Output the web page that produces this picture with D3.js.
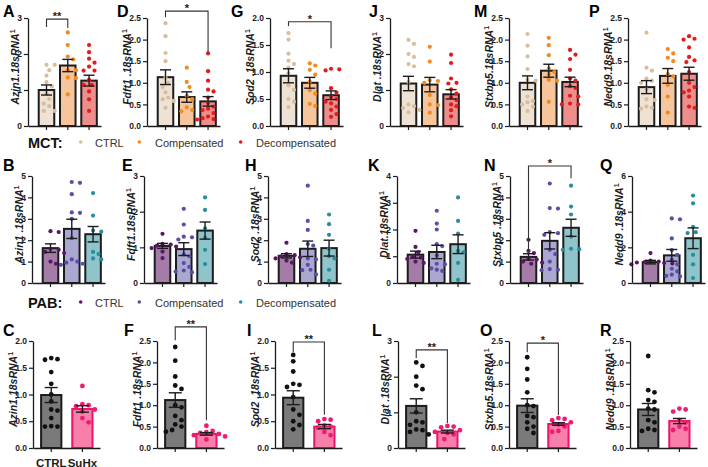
<!DOCTYPE html>
<html><head><meta charset="utf-8">
<script src="https://cdn.jsdelivr.net/npm/d3@7"></script>
<style>body{margin:0;background:#fff}svg{display:block;font-family:"Liberation Sans",Arial,Helvetica,sans-serif}</style>
</head><body><svg id="c" width="708" height="467"></svg>
<script>
// ---------- groups ----------
const mctGroups = ["CTRL","Compensated","Decompensated"];
const pabGroups = ["CTRL","Compensated","Decompensated"];
const suhxGroups = ["CTRL","SuHx"];

// ---------- MCT row ----------
const azin1MctPts = [[1.7,1.7,1.55,1.4,1.22,1.1,0.9,0.75,0.62,0.55,0.42,0.42],[2.6,2.25,1.93,1.85,1.55,1.55,1.35,1.33,0.88],[2.25,2.05,1.87,1.76,1.65,1.54,1.54,1.28,1.14,1.14,0.96,0.74,0.42]];
const azin1MctMean = [1.0,1.68,1.26];
const azin1MctSem = [0.14,0.17,0.15];

const fdft1MctPts = [[2.38,2.08,1.69,1.5,1.12,1.0,0.9,0.78,0.66,0.62,0.58,0.42],[1.35,1.02,0.9,0.7,0.62,0.43,0.37,0.34],[1.68,1.27,1.05,0.84,0.8,0.66,0.53,0.45,0.4,0.37,0.3,0.22,0.18,0.16,0.15]];
const fdft1MctMean = [1.13,0.67,0.57];
const fdft1MctSem = [0.17,0.12,0.11];

const sod2MctPts = [[1.72,1.6,1.34,1.21,1.15,1.08,0.97,0.75,0.67,0.5,0.45,0.35],[1.16,1.12,1.04,0.95,0.82,0.66,0.6,0.41,0.37],[1.06,1.05,1.03,0.7,0.62,0.54,0.5,0.45,0.42,0.36,0.3,0.22,0.17]];
const sod2MctMean = [0.93,0.8,0.57];
const sod2MctSem = [0.13,0.1,0.08];

const dlatMctPts = [[2.39,2.28,2.0,1.92,1.72,1.66,1.22,0.6,0.55,0.5,0.45,0.38],[2.2,1.79,1.27,1.25,1.2,0.86,0.6,0.58,0.37],[1.98,1.75,1.32,1.2,1.18,1.02,0.9,0.8,0.72,0.6,0.55,0.44,0.27]];
const dlatMctMean = [1.18,1.15,0.88];
const dlatMctSem = [0.2,0.2,0.13];

const stxbp5MctPts = [[2.13,1.86,1.61,1.32,1.07,1.05,0.68,0.58,0.55,0.5,0.45,0.35],[2.04,1.87,1.64,1.33,1.25,1.2,1.07,1.05,0.56],[1.76,1.65,1.55,1.3,1.1,1.05,0.92,0.88,0.7,0.68,0.52,0.5,0.5]];
const stxbp5MctMean = [1.0,1.28,1.02];
const stxbp5MctSem = [0.16,0.15,0.11];

const nedd9MctPts = [[2.16,1.35,1.28,1.1,1.05,1.0,0.85,0.62,0.6,0.45,0.42,0.4],[1.78,1.68,1.58,1.5,1.2,1.15,0.95,0.68,0.31],[2.08,2.02,2.0,1.82,1.6,1.52,1.48,1.25,1.0,0.9,0.82,0.78,0.68,0.45,0.42]];
const nedd9MctMean = [0.9,1.16,1.21];
const nedd9MctSem = [0.15,0.17,0.15];

// ---------- PAB row ----------
const azin1PabPts = [[2.42,2.38,1.6,1.55,1.45,1.4,1.0,0.9],[4.72,4.68,4.15,3.3,3.28,3.0,2.1,1.1,1.0,0.95,0.9,0.85],[4.2,3.15,2.45,2.4,1.45,1.35,1.15,1.1]];
const azin1PabMean = [1.63,2.53,2.28];
const azin1PabSem = [0.2,0.45,0.36];

const fdft1PabPts = [[1.38,1.1,1.08,1.05,1.02,0.98,0.88,0.7],[2.08,1.64,1.3,1.28,1.22,0.8,0.75,0.56,0.45,0.35,0.32,0.3],[2.4,2.05,1.53,1.27,0.93,0.53]];
const fdft1PabMean = [1.04,0.95,1.47];
const fdft1PabSem = [0.07,0.18,0.24];

const sod2PabPts = [[1.88,1.35,1.3,1.25,1.2,1.15,1.05,0.95],[4.55,2.9,2.48,1.82,1.75,1.15,1.1,0.85,0.62,0.6,0.4],[3.2,2.75,2.25,1.6,1.25,1.15,0.62,0.1]];
const sod2PabMean = [1.27,1.6,1.63];
const sod2PabSem = [0.1,0.36,0.37];

const dlatPabPts = [[1.95,1.35,1.15,1.0,0.95,0.9,0.8,0.75],[2.7,2.22,2.0,1.45,1.38,1.03,0.72,0.7,0.55,0.5,0.45],[3.2,2.32,1.85,1.2,1.15,0.75,0.12]];
const dlatPabMean = [1.06,1.16,1.45];
const dlatPabSem = [0.13,0.25,0.35];

const stxbp5PabPts = [[2.02,1.5,1.4,1.15,1.1,1.0,0.95,0.9],[4.65,3.5,3.48,2.38,2.33,2.25,1.55,1.35,1.0,0.65,0.62,0.6],[4.55,3.57,3.2,2.17,1.6,1.58,1.55]];
const stxbp5PabMean = [1.22,1.97,2.58];
const stxbp5PabSem = [0.15,0.38,0.4];

const nedd9PabPts = [[1.68,1.25,1.2,1.18,1.15,1.12,1.1,1.05],[3.62,3.57,2.5,1.85,1.58,1.3,1.05,0.8,0.65,0.47,0.4,0.37],[4.9,4.47,3.15,2.85,2.8,1.58,1.05,0.28]];
const nedd9PabMean = [1.17,1.55,2.51];
const nedd9PabSem = [0.1,0.33,0.58];

// ---------- SuHx row ----------
const azin1SuPts = [[1.68,1.66,1.65,1.42,1.2,1.0,0.87,0.72,0.7,0.56,0.41,0.4,0.4],[1.16,0.82,0.8,0.78,0.72,0.68,0.56,0.48]];
const azin1SuMean = [0.99,0.73];
const azin1SuSem = [0.14,0.06];

const fdft1SuPts = [[2.36,2.04,1.67,1.46,1.38,1.0,0.95,0.75,0.65,0.55,0.5,0.42,0.38],[0.52,0.4,0.37,0.35,0.33,0.3,0.27,0.2]];
const fdft1SuMean = [1.12,0.33];
const fdft1SuSem = [0.17,0.03];

const sod2SuPts = [[1.74,1.62,1.43,1.2,1.18,1.14,0.95,0.72,0.62,0.5,0.43,0.35],[0.54,0.53,0.5,0.42,0.4,0.38,0.3,0.24]];
const sod2SuMean = [0.94,0.4];
const sod2SuSem = [0.13,0.04];

const dlatSuPts = [[2.4,2.3,2.0,1.75,1.65,1.0,0.75,0.72,0.65,0.52,0.5,0.45,0.38],[0.62,0.6,0.58,0.5,0.45,0.42,0.38,0.25]];
const dlatSuMean = [1.18,0.46];
const dlatSuSem = [0.2,0.04];

const stxbp5SuPts = [[2.12,1.85,1.6,1.3,1.0,0.98,0.75,0.72,0.6,0.5,0.45,0.35],[0.7,0.68,0.65,0.6,0.55,0.5,0.4,0.38]];
const stxbp5SuMean = [0.99,0.56];
const stxbp5SuSem = [0.16,0.03];

const nedd9SuPts = [[2.15,1.35,1.3,1.12,1.08,0.92,0.9,0.65,0.6,0.45,0.42,0.4],[0.92,0.9,0.85,0.65,0.6,0.5,0.45,0.42]];
const nedd9SuMean = [0.9,0.63];
const nedd9SuSem = [0.14,0.06];

// ---------- tick values ----------
const ticks3 = [0,1,2,3];
const ticks25 = [0,0.5,1,1.5,2,2.5];
const ticks20 = [0,0.5,1,1.5,2];
const ticks5 = [0,1,2,3,4,5];
const ticks4 = [0,1,2,3,4];
const ticks6 = [0,2,4,6];

// ---------- styling ----------
const mctColors = [{pt:"#D9BE9E",bar:"#EEE2D5"},{pt:"#F28A20",bar:"#F6C59B"},{pt:"#E21B1D",bar:"#EE8E8C"}];
const pabColors = [{pt:"#5A1768",bar:"#A57CA8"},{pt:"#5850A6",bar:"#AAA8D1"},{pt:"#2A8D9D",bar:"#8EC4CA"}];
const suColors = [{pt:"#111111",bar:"#7A7A7A"},{pt:"#EE1D72",bar:"#F77FAA",stroke:"#E5166B"}];

const rows = [{top:18,zero:126,letterY:17},{top:176,zero:283,letterY:171},{top:341,zero:448,letterY:336}];

const fmt0 = d3.format("d"), fmt1 = d3.format(".1f");

const panels = [
 {id:"A",row:0,x0:28,lx:3,groups:mctGroups,pts:azin1MctPts,mean:azin1MctMean,sem:azin1MctSem,ymax:3,ticks:ticks3,fmt:fmt0,gene:"Azin1",sep:".18sRNA",col:mctColors,sig:{a:0,b:1,y:2.97,la:2.75,lb:2.72,t:"**"}},
 {id:"D",row:0,x0:147,lx:117,groups:mctGroups,pts:fdft1MctPts,mean:fdft1MctMean,sem:fdft1MctSem,ymax:2.5,ticks:ticks25,fmt:fmt1,gene:"Fdft1",sep:" .18sRNA",col:mctColors,sig:{a:0,b:2,y:2.66,la:2.52,lb:1.71,t:"*"}},
 {id:"G",row:0,x0:270,lx:231,groups:mctGroups,pts:sod2MctPts,mean:sod2MctMean,sem:sod2MctSem,ymax:2,ticks:ticks20,fmt:fmt1,gene:"Sod2",sep:" .18sRNA",col:mctColors,sig:{a:0,b:2,y:1.93,la:1.85,lb:1.44,t:"*"}},
 {id:"J",row:0,x0:390,lx:369,groups:mctGroups,pts:dlatMctPts,mean:dlatMctMean,sem:dlatMctSem,ymax:3,ticks:ticks3,fmt:fmt0,gene:"Dlat",sep:" .18sRNA",col:mctColors},
 {id:"M",row:0,x0:509,lx:474,groups:mctGroups,pts:stxbp5MctPts,mean:stxbp5MctMean,sem:stxbp5MctSem,ymax:2.5,ticks:ticks25,fmt:fmt1,gene:"Stxbp5",sep:".18sRNA",col:mctColors},
 {id:"P",row:0,x0:628,lx:589,groups:mctGroups,pts:nedd9MctPts,mean:nedd9MctMean,sem:nedd9MctSem,ymax:2.5,ticks:ticks25,fmt:fmt1,gene:"Nedd9",sep:".18sRNA",col:mctColors},

 {id:"B",row:1,x0:32,lx:3,groups:pabGroups,pts:azin1PabPts,mean:azin1PabMean,sem:azin1PabSem,ymax:5,ticks:ticks5,fmt:fmt0,gene:"Azin1",sep:" .18sRNA",col:pabColors},
 {id:"E",row:1,x0:144,lx:122,groups:pabGroups,pts:fdft1PabPts,mean:fdft1PabMean,sem:fdft1PabSem,ymax:3,ticks:ticks3,fmt:fmt0,gene:"Fdft1",sep:".18sRNA",col:pabColors},
 {id:"H",row:1,x0:268,lx:245,groups:pabGroups,pts:sod2PabPts,mean:sod2PabMean,sem:sod2PabSem,ymax:5,ticks:ticks5,fmt:fmt0,gene:"Sod2",sep:" .18sRNA",col:pabColors},
 {id:"K",row:1,x0:397,lx:368,groups:pabGroups,pts:dlatPabPts,mean:dlatPabMean,sem:dlatPabSem,ymax:4,ticks:ticks4,fmt:fmt0,gene:"Dlat",sep:".18sRNA",col:pabColors},
 {id:"N",row:1,x0:510,lx:484,groups:pabGroups,pts:stxbp5PabPts,mean:stxbp5PabMean,sem:stxbp5PabSem,ymax:5,ticks:ticks5,fmt:fmt0,gene:"Stxbp5",sep:" .18sRNA",col:pabColors,sig:{a:0,b:2,y:5.47,la:1.45,lb:4.9,t:"*"}},
 {id:"Q",row:1,x0:632,lx:600,groups:pabGroups,pts:nedd9PabPts,mean:nedd9PabMean,sem:nedd9PabSem,ymax:6,ticks:ticks6,fmt:fmt0,gene:"Nedd9",sep:" .18sRNA",col:pabColors},

 {id:"C",row:2,x0:33,lx:3,groups:suhxGroups,pts:azin1SuPts,mean:azin1SuMean,sem:azin1SuSem,ymax:2,ticks:ticks20,fmt:fmt1,gene:"Azin1",sep:".18sRNA",col:suColors,xlabels:true},
 {id:"F",row:2,x0:157,lx:124,groups:suhxGroups,pts:fdft1SuPts,mean:fdft1SuMean,sem:fdft1SuSem,ymax:2.5,ticks:ticks25,fmt:fmt1,gene:"Fdft1",sep:" .18sRNA",col:suColors,sig:{a:0,b:1,y:2.83,la:2.52,lb:0.65,t:"**"}},
 {id:"I",row:2,x0:275,lx:247,groups:suhxGroups,pts:sod2SuPts,mean:sod2SuMean,sem:sod2SuSem,ymax:2,ticks:ticks20,fmt:fmt1,gene:"Sod2",sep:" .18sRNA",col:suColors,sig:{a:0,b:1,y:1.98,la:1.79,lb:0.62,t:"**"}},
 {id:"L",row:2,x0:398,lx:372,groups:suhxGroups,pts:dlatSuPts,mean:dlatSuMean,sem:dlatSuSem,ymax:3,ticks:ticks3,fmt:fmt0,gene:"Dlat",sep:" .18sRNA",col:suColors,sig:{a:0,b:1,y:2.75,la:2.52,lb:0.7,t:"**"}},
 {id:"O",row:2,x0:509,lx:480,groups:suhxGroups,pts:stxbp5SuPts,mean:stxbp5SuMean,sem:stxbp5SuSem,ymax:2.5,ticks:ticks25,fmt:fmt1,gene:"Stxbp5",sep:".18sRNA",col:suColors,sig:{a:0,b:1,y:2.45,la:2.24,lb:0.77,t:"*"}},
 {id:"R",row:2,x0:630,lx:600,groups:suhxGroups,pts:nedd9SuPts,mean:nedd9SuMean,sem:nedd9SuSem,ymax:2.5,ticks:ticks25,fmt:fmt1,gene:"Nedd9",sep:" .18sRNA",col:suColors}
];

const svg = d3.select("#c");
const INK = "#1c1c1c";

// deterministic beeswarm offsets (layout only)
function swarm(vals, y, r){
  const order = vals.map((v,i)=>i).sort((a,b)=>vals[b]-vals[a]);
  const placed = [], offs = new Array(vals.length);
  const step = r*1.3, minD = 2*r+1.4;
  for(const i of order){
    const py = y(vals[i]);
    let off = 0;
    for(let k=0;k<40;k++){
      off = k===0 ? 0 : Math.ceil(k/2)*(k%2?1:-1)*step;
      if(placed.every(p => (p.x-off)**2 + (p.y-py)**2 >= minD*minD)) break;
    }
    placed.push({x:off,y:py}); offs[i]=off;
  }
  return offs;
}

panels.forEach(p=>{
  const row = rows[p.row];
  const n = p.groups.length;
  const y = d3.scaleLinear().domain([0,p.ymax]).range([row.zero,row.top]);
  const W = n===3 ? 73 : 67;
  const x = d3.scaleBand().domain(d3.range(n)).range([p.x0,p.x0+W])
     .paddingInner(n===3?0.27:0.35).paddingOuter(n===3?0.35:0.25).align(n===3?0.72:0.52);
  const bw = x.bandwidth();
  const cx = i => x(i)+bw/2;
  const r = p.row===2 ? 2.4 : 2.1;
  const g = svg.append("g");

  // bars
  g.selectAll("rect").data(p.mean).join("rect")
    .attr("x",(d,i)=>x(i)).attr("width",bw)
    .attr("y",d=>y(d)).attr("height",d=>y(0)-y(d))
    .attr("fill",(d,i)=>p.col[i].bar)
    .attr("stroke",(d,i)=>p.col[i].stroke||INK).attr("stroke-width",2);

  // points
  p.pts.forEach((arr,i)=>{
    const offs = swarm(arr,y,r);
    g.append("g").selectAll("circle").data(arr).join("circle")
      .attr("cx",(v,j)=>cx(i)+offs[j]).attr("cy",v=>y(v)).attr("r",r)
      .attr("fill",p.col[i].pt);
  });

  // error bars
  const cap = n===3 ? 5.5 : 6.5;
  p.mean.forEach((m,i)=>{
    const lo = y(m-p.sem[i]), hi = y(m+p.sem[i]);
    const eg = g.append("g").attr("stroke",INK).attr("stroke-width",1.4).attr("fill","none");
    eg.append("line").attr("x1",cx(i)).attr("x2",cx(i)).attr("y1",lo).attr("y2",hi);
    eg.append("line").attr("x1",cx(i)-cap).attr("x2",cx(i)+cap).attr("y1",hi).attr("y2",hi);
    eg.append("line").attr("x1",cx(i)-cap).attr("x2",cx(i)+cap).attr("y1",lo).attr("y2",lo);
  });

  // y axis
  const ya = g.append("g").attr("transform",`translate(${p.x0},0)`)
    .call(d3.axisLeft(y).tickValues(p.ticks).tickFormat(p.fmt).tickSize(4).tickSizeOuter(0).tickPadding(2));
  ya.select(".domain").attr("stroke",INK).attr("stroke-width",1.3);
  ya.selectAll(".tick line").attr("stroke",INK).attr("stroke-width",1.2);
  ya.selectAll("text").attr("font-size",8.5).attr("font-weight","bold").attr("fill",INK).attr("font-family","Liberation Sans, Arial, sans-serif");

  // x axis
  const xa = g.append("g").attr("transform",`translate(0,${y(0)})`)
    .call(d3.axisBottom(x).tickSize(4).tickSizeOuter(0).tickFormat(i => p.xlabels ? p.groups[i] : ""));
  xa.select(".domain").attr("stroke",INK).attr("stroke-width",1.3);
  xa.selectAll(".tick line").attr("stroke",INK).attr("stroke-width",1.2);
  xa.selectAll("text").attr("font-size",11.5).attr("font-weight","bold").attr("fill",INK).attr("dy","1.0em")
    .attr("font-family","Liberation Sans, Arial, sans-serif");

  // y label
  let maxW = 0;
  ya.selectAll(".tick text").each(function(){ maxW = Math.max(maxW, this.getBBox().width); });
  const lx = p.x0 - maxW - 4;
  const lab = g.append("text")
    .attr("transform",`translate(${lx},${(row.top+row.zero)/2-5}) rotate(-90)`)
    .attr("text-anchor","middle").attr("font-weight","bold").attr("font-size",10.5).attr("fill",INK);
  lab.append("tspan").attr("font-style","italic").text(p.gene);
  lab.append("tspan").attr("font-style","italic").text(p.sep);
  lab.append("tspan").attr("dy",-4).attr("font-size",7).text("1");

  // panel letter
  svg.append("text").attr("x",p.lx).attr("y",row.letterY).attr("font-size",16).attr("font-weight","bold")
    .attr("fill","#000").text(p.id);

  // significance bracket
  if(p.sig){
    const s = p.sig, ys = y(s.y);
    g.append("path").attr("fill","none").attr("stroke","#333").attr("stroke-width",1.1)
      .attr("d",`M${cx(s.a)},${y(s.la)}V${ys}H${cx(s.b)}V${y(s.lb)}`);
    g.append("text").attr("x",(cx(s.a)+cx(s.b))/2).attr("y",ys+1).attr("text-anchor","middle")
      .attr("font-size",11).attr("font-weight","bold").attr("fill",INK).text(s.t);
  }
});

// ---------- legends ----------
const legendRows = [
  {title:"MCT:", y:146.5, col:mctColors, groups:mctGroups},
  {title:"PAB:", y:306.5, col:pabColors, groups:pabGroups}
];
const legDotX = [80.7,139.3,240.7];
const legTextX = [95,155,256];
legendRows.forEach(L=>{
  svg.append("text").attr("x",28).attr("y",L.y+1.5).attr("font-size",14.5).attr("font-weight","bold").attr("fill","#111").text(L.title);
  L.groups.forEach((gname,i)=>{
    svg.append("circle").attr("cx",legDotX[i]).attr("cy",L.y-4.5).attr("r",1.8).attr("fill",L.col[i].pt);
    svg.append("text").attr("x",legTextX[i]).attr("y",L.y).attr("font-size",11).attr("fill","#333").text(gname);
  });
});
</script></body></html>
